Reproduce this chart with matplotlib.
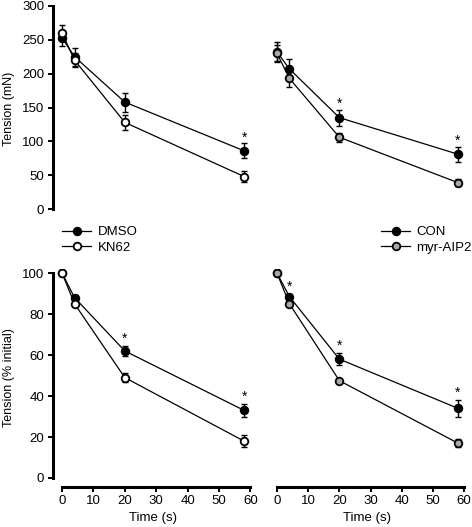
import numpy as np
import matplotlib
matplotlib.use('Agg')
import matplotlib.pyplot as plt

plt.rcParams['font.family'] = ['Liberation Sans', 'DejaVu Sans']
plt.rcParams['font.size'] = 9

# time points (s)
t = [0, 4, 20, 58]

# absolute tension (mN)
dmso_mn = [253, 225, 158, 86]
dmso_mn_err = [12, 13, 14, 11]
kn62_mn = [260, 220, 128, 48]
kn62_mn_err = [12, 10, 11, 8]
con_mn = [232, 207, 135, 81]
con_mn_err = [15, 15, 12, 11]
aip_mn = [230, 193, 106, 39]
aip_mn_err = [12, 12, 7, 5]

# relative tension (% initial)
dmso_pc = [100, 88, 62, 33]
dmso_pc_err = [0, 1.5, 2.5, 3]
kn62_pc = [100, 85, 49, 18]
kn62_pc_err = [0, 1, 2, 3]
con_pc = [100, 88.5, 58, 34]
con_pc_err = [0, 1.5, 3, 4]
aip_pc = [100, 85, 47.5, 17]
aip_pc_err = [0, 1, 1, 2]

stars_tl = [58]
stars_tr = [20, 58]
stars_bl = [20, 58]
stars_br = [4, 20, 58]

W, H = 472, 527
fig = plt.figure(figsize=(W / 100, H / 100), dpi=100)


def px_axes(l, r, top, bot):
    return fig.add_axes([l / W, 1 - bot / H, (r - l) / W, (bot - top) / H])


def style(ax, yaxis, xaxis):
    for s in ['top', 'right']:
        ax.spines[s].set_visible(False)
    ax.spines['left'].set_visible(yaxis)
    ax.spines['bottom'].set_visible(xaxis)
    ax.spines['left'].set_linewidth(2.2)
    ax.spines['bottom'].set_linewidth(2.2)
    ax.tick_params(width=1.4, length=3.5, labelsize=9.5, pad=2.5)
    if not yaxis:
        ax.set_yticks([])
    if not xaxis:
        ax.set_xticks([])
    ax.set_xlim(-3, 61)
    ax.patch.set_alpha(0)


def series(ax, y, err, face, label):
    ax.errorbar(t, y, yerr=err, fmt='none', ecolor='black', elinewidth=1,
                capsize=2.5, capthick=1, zorder=2)
    ln, = ax.plot(t, y, '-o', color='black', lw=0.9, ms=5.5, mfc=face,
                  mec='black', mew=1.3, label=label, zorder=3)
    return ln


def stars(ax, xs, ys, errs, off):
    for x in xs:
        i = t.index(x)
        ax.text(x, ys[i] + errs[i] + off, '*', ha='center', va='center',
                fontsize=10)


gray = '#a8a8a8'

# top left
ax1 = px_axes(52.6, 253.5, 6, 212.4)
style(ax1, True, False)
ax1.set_ylim(-5, 300)
ax1.spines['left'].set_bounds(0, 300)
ax1.set_yticks(range(0, 301, 50))
h1 = series(ax1, dmso_mn, dmso_mn_err, 'black', 'DMSO')
h2 = series(ax1, kn62_mn, kn62_mn_err, 'white', 'KN62')
stars(ax1, stars_tl, dmso_mn, dmso_mn_err, 9)
ax1.set_ylabel('Tension (mN)', fontsize=9, labelpad=5)

# top right
ax2 = px_axes(267.6, 467.3, 6, 212.4)
style(ax2, False, False)
ax2.set_ylim(-5, 300)
h3 = series(ax2, con_mn, con_mn_err, 'black', 'CON')
h4 = series(ax2, aip_mn, aip_mn_err, gray, 'myr-AIP2')
stars(ax2, stars_tr, con_mn, con_mn_err, 9)

# bottom left
ax3 = px_axes(52.6, 253.5, 269, 487)
style(ax3, True, True)
ax3.set_ylim(-4.4, 102)
ax3.spines['left'].set_bounds(0, 100)
ax3.spines['bottom'].set_bounds(0, 60)
ax3.set_yticks(range(0, 101, 20))
ax3.set_xticks(range(0, 61, 10))
series(ax3, dmso_pc, dmso_pc_err, 'black', 'DMSO')
series(ax3, kn62_pc, kn62_pc_err, 'white', 'KN62')
stars(ax3, stars_bl, dmso_pc, dmso_pc_err, 3.5)
ax3.set_ylabel('Tension (% initial)', fontsize=9, labelpad=5)
ax3.set_xlabel('Time (s)', fontsize=9.5, labelpad=3.5)

# bottom right
ax4 = px_axes(267.6, 467.3, 269, 487)
style(ax4, False, True)
ax4.set_ylim(-4.4, 102)
ax4.spines['bottom'].set_bounds(0, 60)
ax4.set_xticks(range(0, 61, 10))
series(ax4, con_pc, con_pc_err, 'black', 'CON')
series(ax4, aip_pc, aip_pc_err, gray, 'myr-AIP2')
stars(ax4, stars_br, con_pc, con_pc_err, 3.5)
ax4.set_xlabel('Time (s)', fontsize=9.5, labelpad=3.5)

leg_kw = dict(frameon=False, handlelength=2.2, handletextpad=0.5,
              labelspacing=0.25, fontsize=9.5, borderpad=0, borderaxespad=0)
fig.legend(handles=[h1, h2], loc='upper left',
           bbox_to_anchor=(62 / W, 1 - 226 / H), **leg_kw)
fig.legend(handles=[h3, h4], loc='upper left',
           bbox_to_anchor=(381 / W, 1 - 226 / H), **leg_kw)

fig.savefig('out.png', dpi=100)
